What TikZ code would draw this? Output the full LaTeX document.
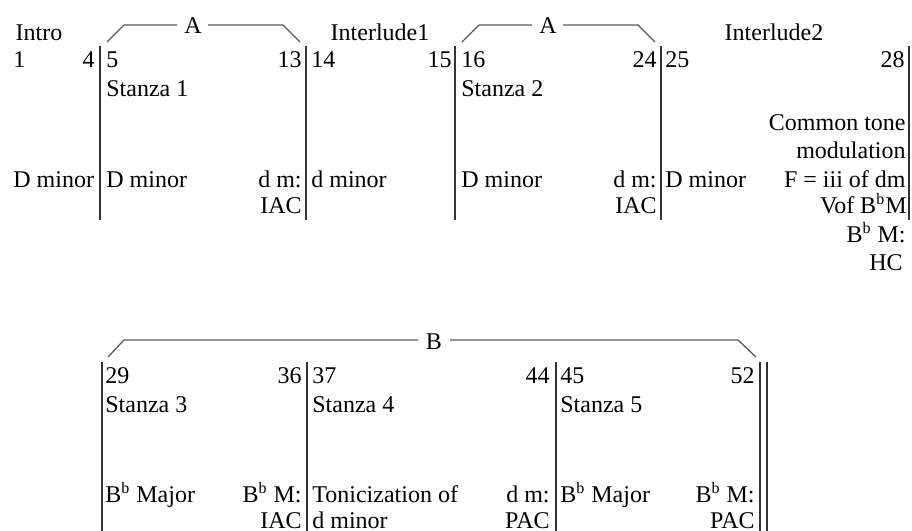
\documentclass[tikz,border=0pt]{standalone}
\usepackage{fontspec}
\setmainfont{Liberation Serif}
\newcommand{\tmfont}{\fontsize{12}{14}\selectfont}
\newcommand{\flatb}{\textsuperscript{b}}
\tikzset{
  txl/.style={inner sep=0pt, anchor=base west, font=\tmfont},
  txr/.style={inner sep=0pt, anchor=base east, font=\tmfont},
  txc/.style={inner sep=0pt, anchor=base, font=\tmfont},
  bar/.style={line width=0.75pt, draw=black!80},
  brk/.style={line width=0.65pt, draw=black!65},
}
\begin{document}
\begin{tikzpicture}[x=0.5pt, y=-0.5pt]
\useasboundingbox (0,0) rectangle (912,531);
% ---------- top system ----------
\foreach \xx/\nm in {100/ta,306/tb,455/tc,661/td,909/te}{
  \coordinate (\nm1) at (\xx,46);
  \coordinate (\nm2) at (\xx,220);
  \draw[bar] (\nm1) -- (\nm2);
}
% section labels
\node[txc] (intro) at (39,40) {Intro};
\node[txc] (inter1) at (380,40) {Interlude1};
\node[txc] (inter2) at (774,40) {Interlude2};
\node[txc] (A1) at (193,33) {A};
\node[txc] (A2) at (548,33) {A};
% A brackets
\coordinate (a1s) at (107,42);
\coordinate (a1t) at (124,25);
\coordinate (a1u) at (177,25);
\coordinate (a1v) at (208,25);
\coordinate (a1w) at (283,25);
\coordinate (a1e) at (300,42);
\draw[brk] (a1s) -- (a1t) -- (a1u);
\draw[brk] (a1v) -- (a1w) -- (a1e);
\coordinate (a2s) at (462,42);
\coordinate (a2t) at (479,25);
\coordinate (a2u) at (532,25);
\coordinate (a2v) at (563,25);
\coordinate (a2w) at (638,25);
\coordinate (a2e) at (655,42);
\draw[brk] (a2s) -- (a2t) -- (a2u);
\draw[brk] (a2v) -- (a2w) -- (a2e);
% measure numbers
\node[txl] (m1) at (13,67) {1};
\node[txr] (m4) at (95,67) {4};
\node[txl] (m5) at (106,67) {5};
\node[txr] (m13) at (302,67) {13};
\node[txl] (m14) at (311,67) {14};
\node[txr] (m15) at (452,67) {15};
\node[txl] (m16) at (461,67) {16};
\node[txr] (m24) at (657,67) {24};
\node[txl] (m25) at (665,67) {25};
\node[txr] (m28) at (905,67) {28};
% stanzas
\node[txl] (s1) at (106,96) {Stanza 1};
\node[txl] (s2) at (461,96) {Stanza 2};
% keys
\node[txl] (k1) at (13,187) {D minor};
\node[txl] (k2) at (106,187) {D minor};
\node[txr] (k3) at (302,187) {d m:};
\node[txr] (k3b) at (302,213) {IAC};
\node[txl] (k4) at (311,187) {d minor};
\node[txl] (k5) at (461,187) {D minor};
\node[txr] (k6) at (657,187) {d m:};
\node[txr] (k6b) at (657,213) {IAC};
\node[txl] (k7) at (665,187) {D minor};
\node[txr] (c1) at (906,130) {Common tone};
\node[txr] (c2) at (906,158) {modulation};
\node[txr] (c3) at (906,187) {F = iii of dm};
\node[txr] (c4) at (907,213) {Vof B\flatb M};
\node[txr] (c5) at (906,242) {B\flatb{} M:};
\node[txr] (c6) at (903,270) {HC};
% ---------- bottom system ----------
\foreach \xx/\nm in {102/ba,307/bb,556/bc,760/bd,767/be}{
  \coordinate (\nm1) at (\xx,362);
  \coordinate (\nm2) at (\xx,531);
  \draw[bar] (\nm1) -- (\nm2);
}
\node[txc] (B1) at (434,349) {B};
\coordinate (b1s) at (108,357);
\coordinate (b1t) at (124,340);
\coordinate (b1u) at (418,340);
\coordinate (b1v) at (450,340);
\coordinate (b1w) at (738,340);
\coordinate (b1e) at (756,357);
\draw[brk] (b1s) -- (b1t) -- (b1u);
\draw[brk] (b1v) -- (b1w) -- (b1e);
\node[txl] (n29) at (105,383) {29};
\node[txr] (n36) at (302,383) {36};
\node[txl] (n37) at (312,383) {37};
\node[txr] (n44) at (550,383) {44};
\node[txl] (n45) at (560,383) {45};
\node[txr] (n52) at (755,383) {52};
\node[txl] (s3) at (105,412) {Stanza 3};
\node[txl] (s4) at (312,412) {Stanza 4};
\node[txl] (s5) at (560,412) {Stanza 5};
\node[txl] (q1) at (105,502) {B\flatb{} Major};
\node[txr] (q2) at (302,502) {B\flatb{} M:};
\node[txr] (q2b) at (302,528) {IAC};
\node[txl] (q3) at (312,502) {Tonicization of};
\node[txl] (q3b) at (312,528) {d minor};
\node[txr] (q4) at (550,502) {d m:};
\node[txr] (q4b) at (550,528) {PAC};
\node[txl] (q5) at (560,502) {B\flatb{} Major};
\node[txr] (q6) at (755,502) {B\flatb{} M:};
\node[txr] (q6b) at (755,528) {PAC};
\end{tikzpicture}
\end{document}
